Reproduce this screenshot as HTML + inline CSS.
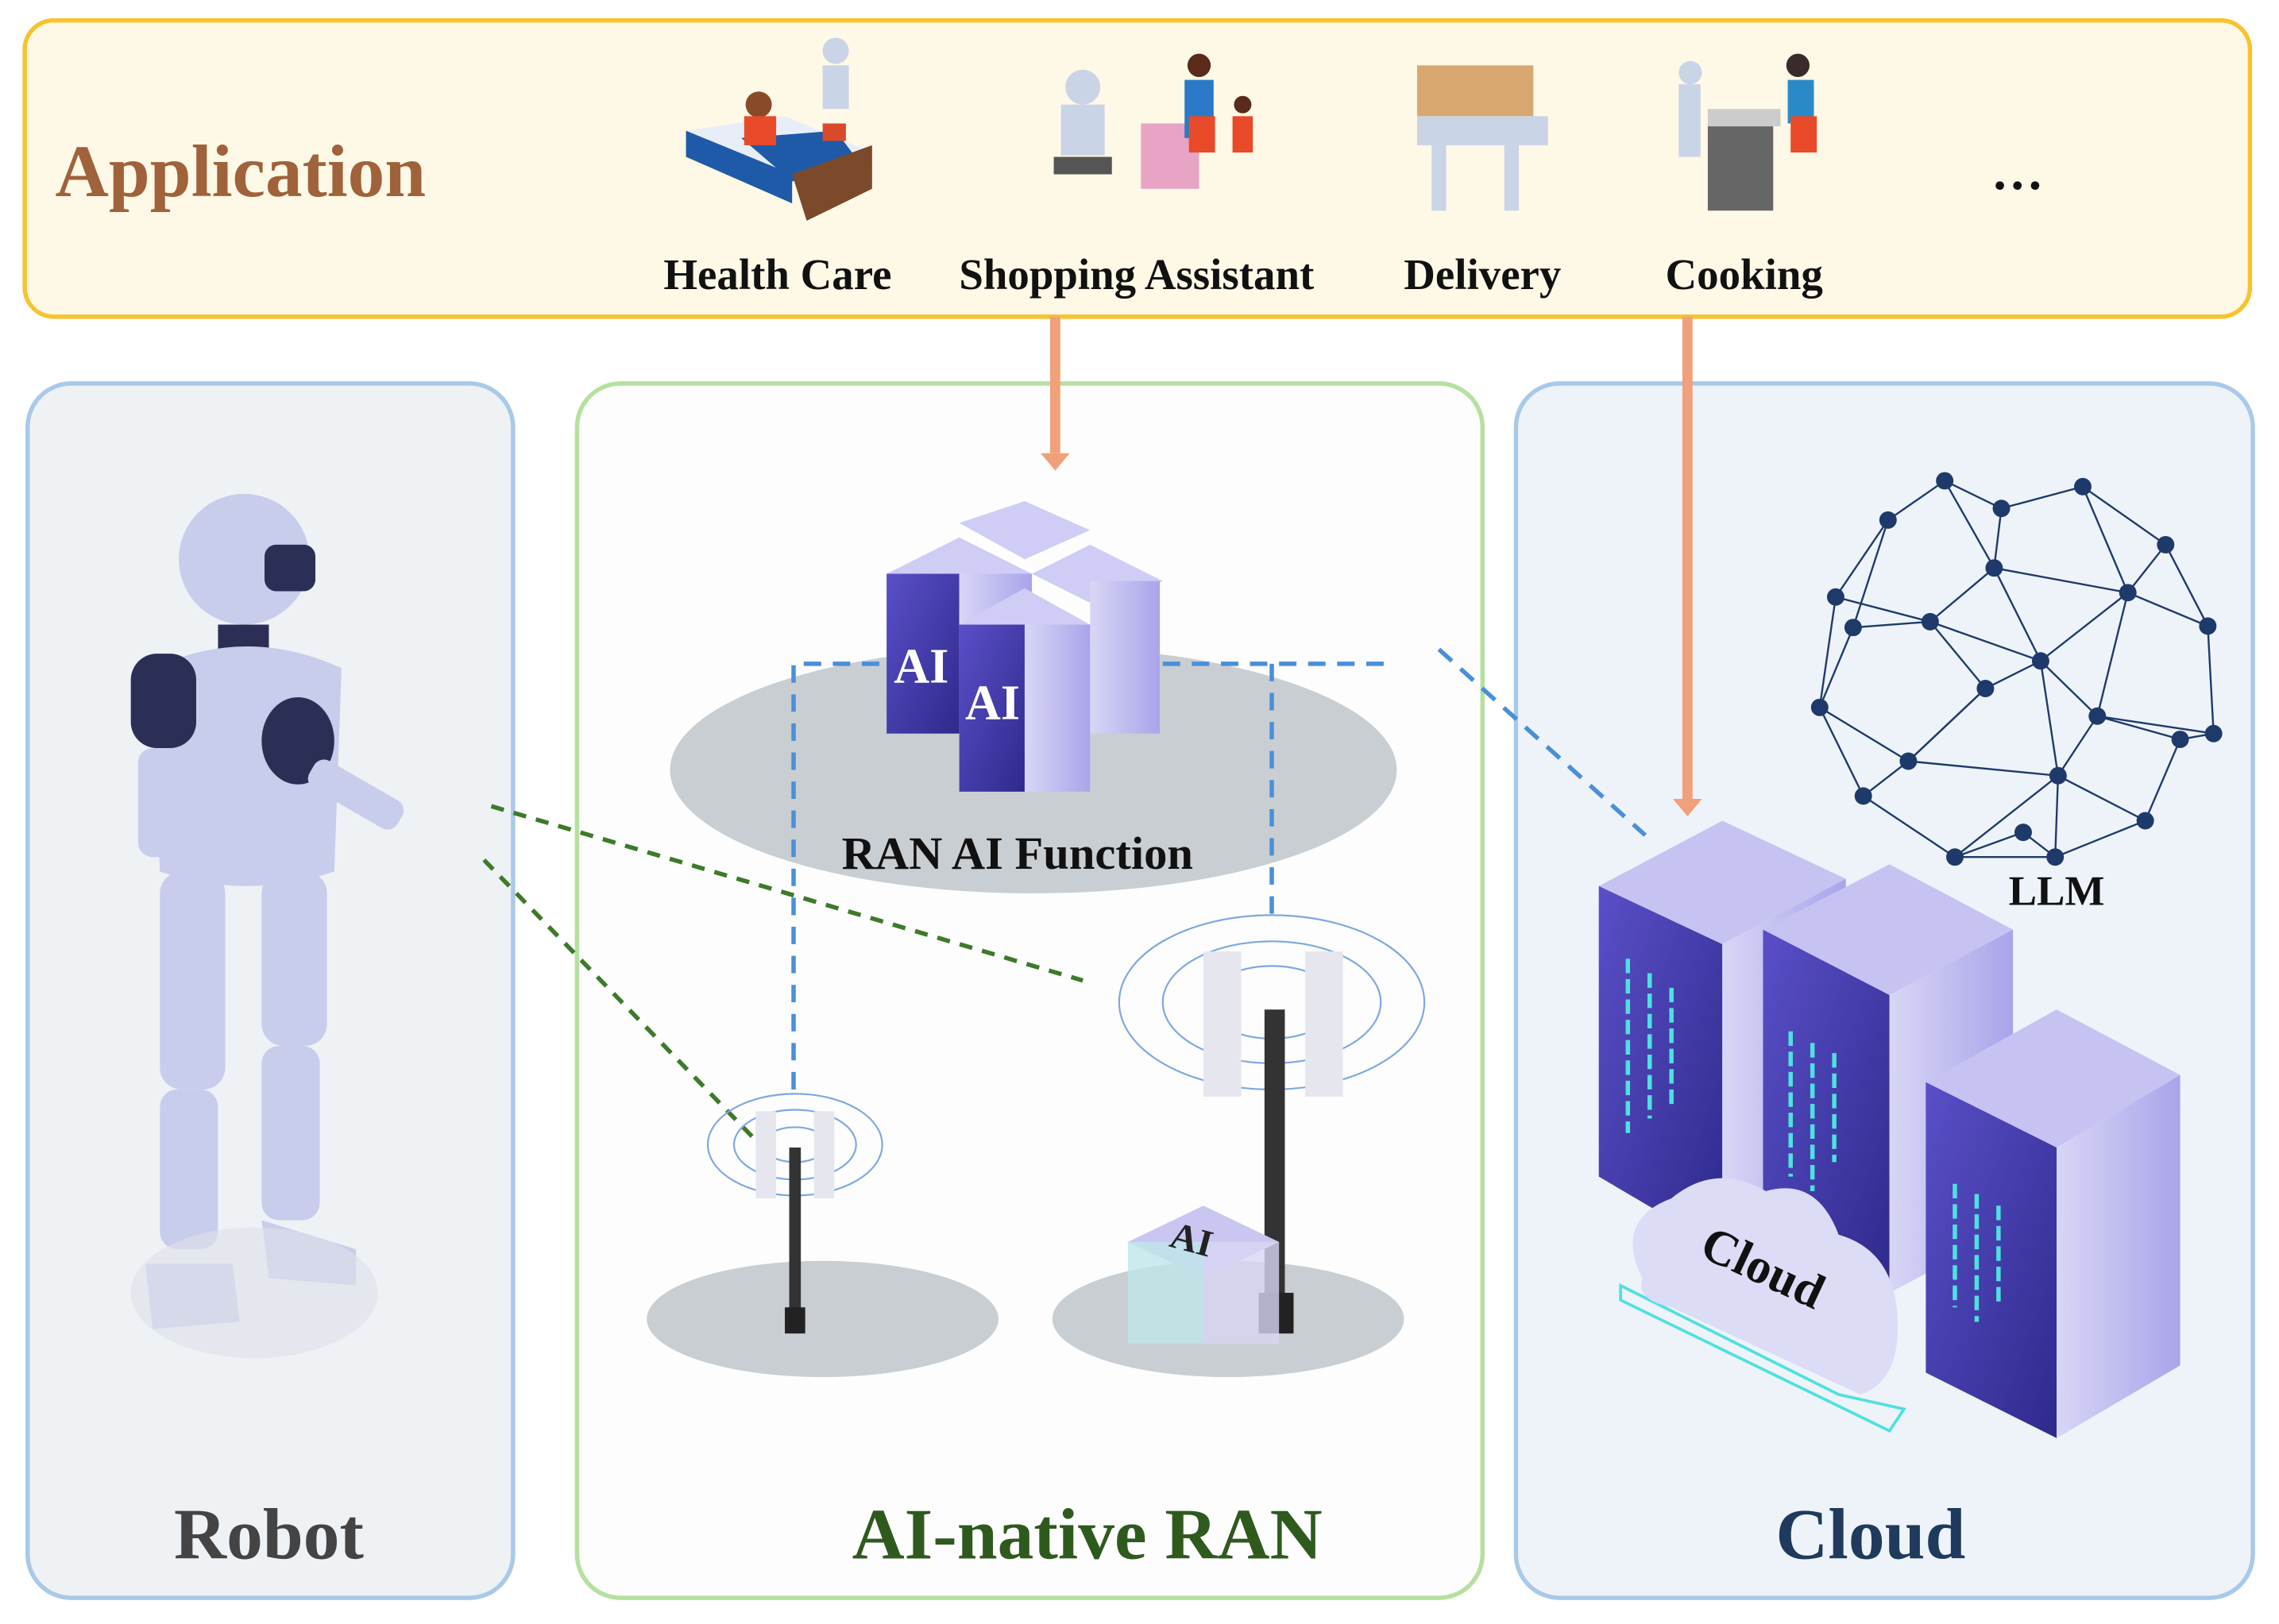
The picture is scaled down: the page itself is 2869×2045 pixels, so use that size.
<!DOCTYPE html>
<html><head><meta charset="utf-8"><style>html,body{margin:0;padding:0;background:#fff}svg{display:block}</style></head><body>
<svg width="2869" height="2045" viewBox="0 0 1568 1118" preserveAspectRatio="none" xmlns="http://www.w3.org/2000/svg" font-family="Liberation Serif, serif">
<defs>
<linearGradient id="sv" x1="0" y1="0" x2="1" y2="1"><stop offset="0" stop-color="#5a4fc8"/><stop offset="1" stop-color="#2e2a8c"/></linearGradient>
<linearGradient id="sv2" x1="0" y1="0" x2="1" y2="0"><stop offset="0" stop-color="#d8d6f6"/><stop offset="1" stop-color="#a9a4ea"/></linearGradient>
</defs>
<!-- Application -->
<rect x="17" y="14" width="1531" height="204" rx="20" fill="#fef8e6" stroke="#f9c22e" stroke-width="3"/>
<text x="38" y="135" font-size="51" font-weight="bold" fill="#a0623a">Application</text>
<g font-size="30" font-weight="bold" fill="#111" text-anchor="middle">
<text x="535" y="199">Health Care</text><text x="782" y="199">Shopping Assistant</text>
<text x="1020" y="199">Delivery</text><text x="1200" y="199">Cooking</text>
<text x="1388" y="130" font-size="36">…</text></g>
<!-- app icons -->
<g>
<polygon points="472,90 540,80 600,105 545,120" fill="#e8eef8"/>
<polygon points="472,90 545,120 545,140 472,108" fill="#1e5aa8"/>
<polygon points="510,95 575,90 590,110 545,125" fill="#1e5aa8"/>
<polygon points="545,120 600,100 600,130 555,152" fill="#7a4a2a"/>
<circle cx="522" cy="72" r="9" fill="#8a4a2a"/><rect x="512" y="80" width="22" height="20" fill="#e84a2a"/>
<circle cx="575" cy="35" r="9" fill="#c9d4e6"/><rect x="566" y="45" width="18" height="30" fill="#c9d4e6"/>
<rect x="566" y="85" width="16" height="12" fill="#d84a2a"/>
<circle cx="745" cy="60" r="12" fill="#c9d4e6"/><rect x="730" y="72" width="30" height="35" fill="#c9d4e6"/><rect x="725" y="108" width="40" height="12" fill="#555"/>
<rect x="785" y="85" width="40" height="45" fill="#e8a4c4"/><circle cx="825" cy="45" r="8" fill="#5a2a1a"/><rect x="815" y="55" width="20" height="40" fill="#2a7ac8"/><rect x="818" y="80" width="18" height="25" fill="#e84a2a"/>
<circle cx="855" cy="72" r="6" fill="#5a2a1a"/><rect x="848" y="80" width="14" height="25" fill="#e84a2a"/>
<rect x="975" y="45" width="80" height="35" fill="#d8a870"/><rect x="975" y="80" width="90" height="20" fill="#c9d4e6"/><rect x="985" y="100" width="10" height="45" fill="#c9d4e6"/><rect x="1035" y="100" width="10" height="45" fill="#c9d4e6"/>
<rect x="1175" y="85" width="45" height="60" fill="#666"/><rect x="1175" y="75" width="50" height="12" fill="#ccc"/>
<circle cx="1163" cy="50" r="8" fill="#c9d4e6"/><rect x="1155" y="58" width="15" height="50" fill="#c9d4e6"/>
<circle cx="1237" cy="45" r="8" fill="#3a2a2a"/><rect x="1230" y="55" width="18" height="30" fill="#2a8ac8"/><rect x="1232" y="80" width="18" height="25" fill="#e84a2a"/>
</g>
<!-- panels -->
<rect x="19" y="264" width="334" height="836" rx="30" fill="#eef2f5" stroke="#a9c9e8" stroke-width="3"/>
<rect x="397" y="264" width="623" height="836" rx="30" fill="#fdfdfd" stroke="#b6e0a0" stroke-width="3"/>
<rect x="1043" y="264" width="507" height="836" rx="30" fill="#eef3fa" stroke="#a9c9e8" stroke-width="3"/>
<g font-size="50" font-weight="bold" text-anchor="middle">
<text x="185" y="1073" fill="#444">Robot</text>
<text x="748" y="1073" fill="#2f5a1e">AI-native RAN</text>
<text x="1287" y="1073" fill="#1e3a5c">Cloud</text></g>
<!-- arrows -->
<g stroke="#f0a07a" stroke-width="7" fill="#f0a07a">
<line x1="726" y1="218" x2="726" y2="312"/><polygon points="716,312 736,312 726,324" stroke="none"/>
<line x1="1161" y1="218" x2="1161" y2="550"/><polygon points="1151,550 1171,550 1161,562" stroke="none"/></g>
<!-- ellipses -->
<ellipse cx="711" cy="530" rx="250" ry="85" fill="#c9ced3"/>
<ellipse cx="566" cy="908" rx="121" ry="40" fill="#c9ced3"/>
<ellipse cx="845" cy="908" rx="121" ry="40" fill="#c9ced3"/>
<!-- RAN servers -->
<g>
<polygon points="610,395 660,370 710,395 660,420" fill="#cfcdf5"/>
<rect x="610" y="395" width="50" height="110" fill="url(#sv)"/><rect x="660" y="395" width="50" height="110" fill="url(#sv2)"/>
<polygon points="710,395 750,375 800,400 760,420" fill="#cfcdf5"/>
<rect x="750" y="400" width="48" height="105" fill="url(#sv2)"/>
<polygon points="660,360 705,345 750,365 705,385" fill="#cfcdf5"/>
<polygon points="660,430 705,405 750,430 705,455" fill="#cfcdf5"/>
<rect x="660" y="430" width="45" height="115" fill="url(#sv)"/><rect x="705" y="430" width="45" height="115" fill="url(#sv2)"/>
<text x="615" y="470" font-size="34" font-weight="bold" fill="#fff">AI</text>
<text x="664" y="495" font-size="34" font-weight="bold" fill="#fff">AI</text>
</g>
<text x="700" y="598" font-size="32" font-weight="bold" text-anchor="middle" fill="#111">RAN AI Function</text>
<!-- dashed links -->
<g stroke="#4a8fd8" stroke-width="3" stroke-dasharray="12,8" fill="none">
<polyline points="546,750 546,457 610,457"/>
<polyline points="800,457 960,457"/>
<line x1="875" y1="457" x2="875" y2="630"/>
<line x1="990" y1="447" x2="1132" y2="575"/></g>
<g stroke="#3d7a2a" stroke-width="3" stroke-dasharray="9,7">
<line x1="338" y1="555" x2="745" y2="675"/><line x1="333" y1="592" x2="520" y2="785"/></g>
<!-- towers -->
<g fill="none" stroke="#7fa8e0" stroke-width="1.2">
<ellipse cx="547" cy="788" rx="60" ry="35"/><ellipse cx="547" cy="788" rx="42" ry="24"/><ellipse cx="547" cy="788" rx="22" ry="12"/>
<ellipse cx="875" cy="690" rx="105" ry="60"/><ellipse cx="875" cy="690" rx="75" ry="42"/><ellipse cx="875" cy="690" rx="45" ry="25"/></g>
<rect x="520" y="765" width="14" height="60" fill="#e6e6ee"/><rect x="560" y="765" width="14" height="60" fill="#e6e6ee"/>
<rect x="543" y="790" width="8" height="120" fill="#333"/><rect x="540" y="900" width="14" height="18" fill="#222"/>
<rect x="828" y="655" width="26" height="100" fill="#e6e6ee"/><rect x="898" y="655" width="26" height="100" fill="#e6e6ee"/>
<rect x="870" y="695" width="14" height="200" fill="#333"/><rect x="866" y="890" width="24" height="28" fill="#222"/>
<polygon points="776,855 828,830 880,855 828,880" fill="#c9c6f2"/>
<rect x="776" y="855" width="52" height="70" fill="#bfe6ea" opacity=".8"/><rect x="828" y="855" width="52" height="70" fill="#d8d6f4" opacity=".8"/>
<text x="805" y="862" font-size="26" font-weight="bold" fill="#222" transform="rotate(15 820 855)">AI</text>
<!-- robot -->
<g fill="#c9cdec">
<circle cx="168" cy="385" r="45"/><rect x="182" y="375" width="35" height="32" rx="8" fill="#2c2f55"/>
<rect x="150" y="430" width="35" height="20" fill="#2c2f55"/>
<path d="M105,460 Q170,430 235,460 L230,600 Q170,620 110,600 Z"/>
<rect x="90" y="450" width="45" height="65" rx="18" fill="#2c2f55"/>
<ellipse cx="205" cy="510" rx="25" ry="30" fill="#2c2f55"/>
<rect x="95" y="515" width="30" height="75" rx="10"/>
<rect x="120" y="570" width="95" height="20" rx="8"/>
<rect x="220" y="520" width="70" height="22" rx="8" transform="rotate(30 220 520)"/>
<rect x="110" y="600" width="45" height="150" rx="15"/><rect x="180" y="600" width="45" height="120" rx="15"/>
<rect x="110" y="750" width="40" height="110" rx="12"/><rect x="180" y="720" width="40" height="120" rx="12"/>
<path d="M100,870 L160,870 L165,910 L105,915 Z"/><path d="M180,840 L245,860 L245,885 L185,880 Z"/>
</g>
<ellipse cx="175" cy="890" rx="85" ry="45" fill="#dde1ea" opacity=".6"/>
<!-- LLM network -->
<g stroke="#1e3a6a" stroke-width="1.3" fill="none">
<polyline points="1299,358 1338,331 1377,350 1433,335 1490,375 1519,431 1523,505 1500,509 1476,565 1414,590 1345,590 1282,548 1252,487 1263,411 1299,358"/>
<polyline points="1299,358 1275,432 1328,428 1372,391 1464,408 1519,431"/>
<polyline points="1377,350 1372,391 1338,331"/>
<polyline points="1433,335 1464,408 1490,375"/>
<polyline points="1275,432 1252,487 1313,524 1366,474 1404,455 1464,408"/>
<polyline points="1328,428 1366,474 1313,524 1282,548"/>
<polyline points="1404,455 1443,493 1500,509"/>
<polyline points="1443,493 1416,534 1313,524"/>
<polyline points="1416,534 1345,590 1392,573 1414,590 1416,534 1476,565"/>
<polyline points="1372,391 1404,455 1416,534"/>
<polyline points="1328,428 1404,455"/><polyline points="1464,408 1443,493 1523,505"/>
<polyline points="1263,411 1328,428"/>
</g>
<g fill="#1e3a6a">
<circle cx="1299" cy="358" r="6"/><circle cx="1338" cy="331" r="6"/><circle cx="1377" cy="350" r="6"/><circle cx="1433" cy="335" r="6"/><circle cx="1490" cy="375" r="6"/><circle cx="1519" cy="431" r="6"/><circle cx="1523" cy="505" r="6"/><circle cx="1500" cy="509" r="6"/><circle cx="1476" cy="565" r="6"/><circle cx="1414" cy="590" r="6"/><circle cx="1345" cy="590" r="6"/><circle cx="1282" cy="548" r="6"/><circle cx="1252" cy="487" r="6"/><circle cx="1263" cy="411" r="6"/><circle cx="1275" cy="432" r="6"/><circle cx="1328" cy="428" r="6"/><circle cx="1372" cy="391" r="6"/><circle cx="1464" cy="408" r="6"/><circle cx="1366" cy="474" r="6"/><circle cx="1404" cy="455" r="6"/><circle cx="1443" cy="493" r="6"/><circle cx="1313" cy="524" r="6"/><circle cx="1416" cy="534" r="6"/><circle cx="1392" cy="573" r="6"/></g>
<text x="1415" y="623" font-size="29" font-weight="bold" text-anchor="middle" fill="#111">LLM</text>
<!-- cloud servers -->
<g>
<polygon points="1100,610 1185,565 1270,605 1185,650" fill="#c6c3f2"/>
<polygon points="1100,610 1185,650 1185,860 1100,810" fill="url(#sv)"/>
<polygon points="1185,650 1270,605 1270,820 1185,860" fill="url(#sv2)"/>
<polygon points="1213,640 1300,595 1385,640 1300,685" fill="#c6c3f2"/>
<polygon points="1213,640 1300,685 1300,890 1213,845" fill="url(#sv)"/>
<polygon points="1300,685 1385,640 1385,845 1300,890" fill="url(#sv2)"/>
<polygon points="1325,745 1415,695 1500,740 1415,790" fill="#c6c3f2"/>
<polygon points="1325,745 1415,790 1415,990 1325,945" fill="url(#sv)"/>
<polygon points="1415,790 1500,740 1500,940 1415,990" fill="url(#sv2)"/>
<g stroke="#4fe0e0" stroke-width="3" stroke-dasharray="10,4">
<line x1="1120" y1="660" x2="1120" y2="780"/><line x1="1135" y1="670" x2="1135" y2="770"/><line x1="1150" y1="680" x2="1150" y2="760"/>
<line x1="1232" y1="710" x2="1232" y2="810"/><line x1="1247" y1="718" x2="1247" y2="820"/><line x1="1262" y1="725" x2="1262" y2="800"/>
<line x1="1345" y1="815" x2="1345" y2="900"/><line x1="1360" y1="822" x2="1360" y2="910"/><line x1="1375" y1="830" x2="1375" y2="900"/></g>
<polygon points="1115,885 1265,960 1310,970 1300,985 1115,895" fill="none" stroke="#4fe0e0" stroke-width="2"/>
<path d="M1130,880 Q1110,840 1150,825 Q1180,800 1215,820 Q1250,810 1265,850 Q1300,860 1305,900 Q1310,950 1280,960 L1150,900 Q1125,895 1130,880 Z" fill="#dcdcf6"/>
<text x="1160" y="880" font-size="34" font-weight="bold" fill="#111" transform="rotate(25 1200 890)">Cloud</text>
</g>
</svg>
</body></html>
